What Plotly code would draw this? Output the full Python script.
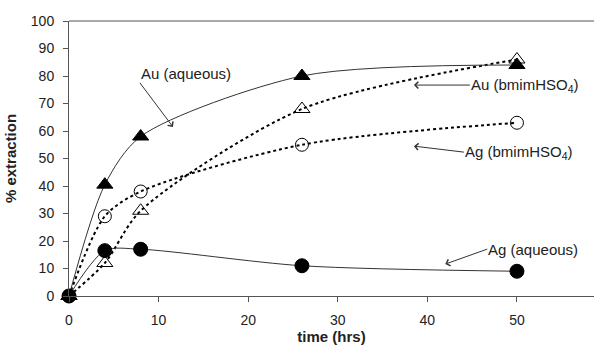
import plotly.graph_objects as go

time_hrs = [0, 4, 8, 26, 50]
au_aqueous = [0, 40.5, 58, 80, 84]
au_bmim = [0, 12, 31, 68, 86]
ag_bmim = [0, 29, 38, 55, 63]
ag_aqueous = [0, 16.5, 17, 11, 9]

x_ticks = [0, 10, 20, 30, 40, 50]
y_ticks = [0, 10, 20, 30, 40, 50, 60, 70, 80, 90, 100]

FONT = "Liberation Sans, Arial"
fig = go.Figure()

def add(y, dash, width, symbol, size, color="black"):
    fig.add_trace(go.Scatter(
        x=time_hrs, y=y, mode="lines+markers",
        line=dict(shape="spline", smoothing=0.8, dash=dash, width=width, color=color),
        marker=dict(symbol=symbol, size=size, color="black", line=dict(color="black", width=1)),
        showlegend=False, cliponaxis=False))

add(ag_bmim, "dot", 2, "circle-open", 13)
add(au_bmim, "dot", 2, "triangle-up-open", 14)
add(au_aqueous, "solid", 1, "triangle-up", 14, "#333")
add(ag_aqueous, "solid", 1, "circle", 14, "#333")

fnt = dict(family=FONT, size=15, color="#222")
# label: arrow tip (data), text offset from tip (pixels), anchors
labels = [
    (11.6, 61.5, -33, -44, "Au (aqueous)", "left", "bottom"),
    (38.5, 76.7, 56, 0, "Au (bmimHSO<sub>4</sub>)", "left", "middle"),
    (38.5, 54.5, 50, 6, "Ag (bmimHSO<sub>4</sub>)", "left", "middle"),
    (42.0, 11.6, 42, -15, "Ag (aqueous)", "left", "middle"),
]
for x, y, ax, ay, t, xa, ya in labels:
    fig.add_annotation(x=x, y=y, text=t, ax=ax, ay=ay, axref="pixel", ayref="pixel",
                       showarrow=True, arrowhead=4, arrowsize=1.3, arrowwidth=1,
                       arrowcolor="#333", xanchor=xa, yanchor=ya, font=fnt,
                       borderpad=0)

fig.update_layout(
    width=594, height=346, margin=dict(l=69, r=0, t=21, b=50),
    paper_bgcolor="white", plot_bgcolor="white",
    xaxis=dict(range=[0, 58.6], tickvals=x_ticks, showgrid=False, zeroline=False,
               showline=True, linecolor="#555", linewidth=1,
               ticks="outside", ticklen=5, tickcolor="#555", ticklabelstandoff=6,
               tickfont=dict(family=FONT, size=14, color="#222"),
               title=dict(text="<b>time (hrs)</b>", standoff=3,
                          font=dict(family=FONT, size=15, color="#222"))),
    yaxis=dict(range=[0, 100], tickvals=y_ticks, showgrid=False, zeroline=False,
               showline=True, linecolor="#555", linewidth=1,
               ticks="outside", ticklen=5, tickcolor="#555", ticklabelstandoff=6,
               tickfont=dict(family=FONT, size=14, color="#222"),
               title=dict(text="<b>% extraction</b>", standoff=10,
                          font=dict(family=FONT, size=15, color="#222"))),
)
fig.add_shape(type="line", xref="paper", yref="paper", x0=0, x1=1, y0=1, y1=1,
              line=dict(color="#555", width=1))

fig.write_html("out.html")
